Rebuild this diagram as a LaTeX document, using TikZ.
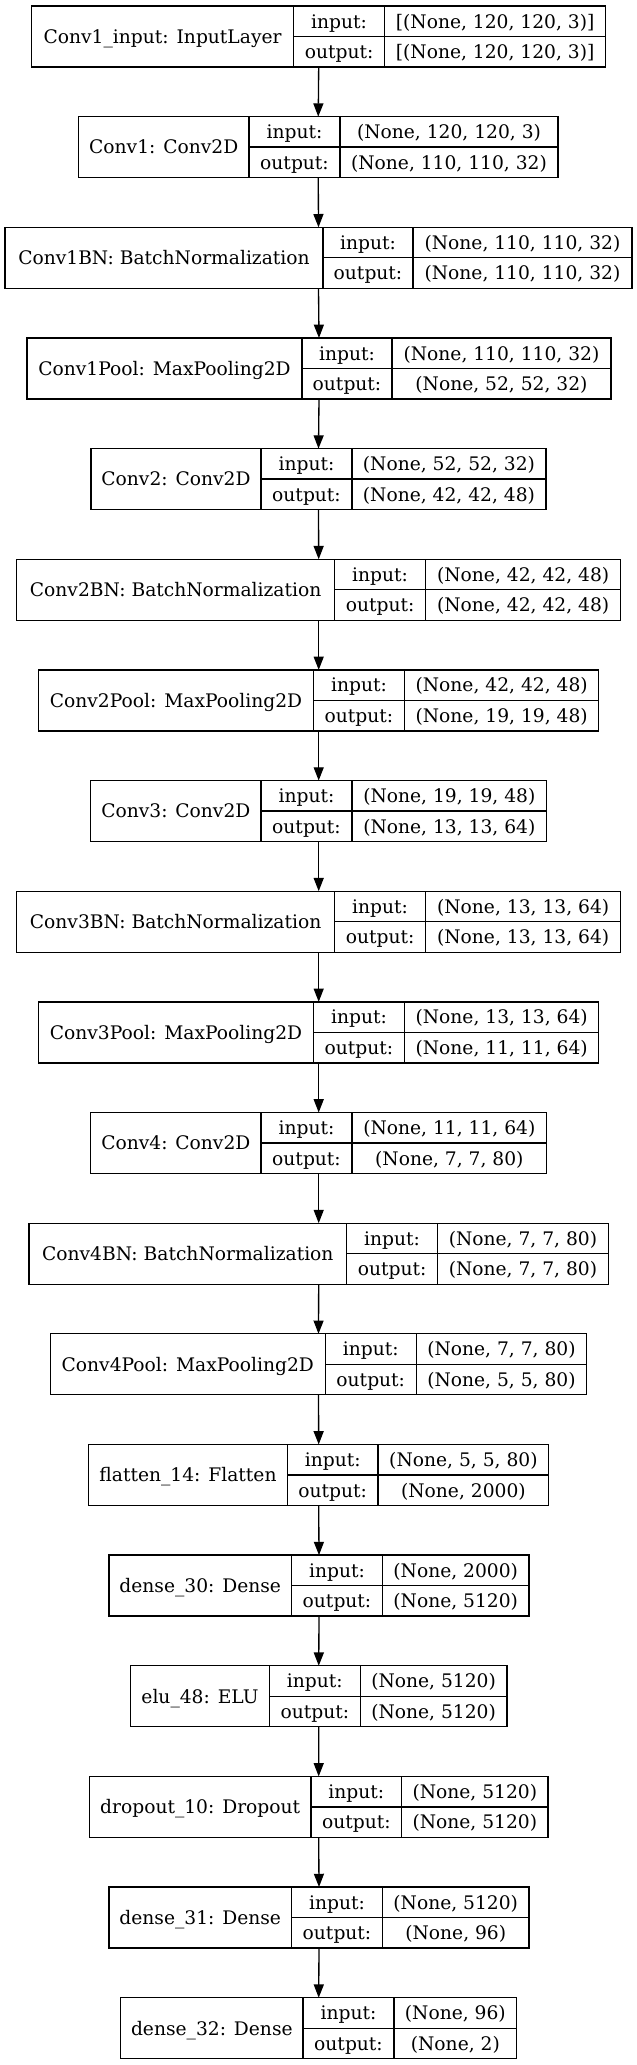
\documentclass[tikz,border=0pt]{standalone}
\usepackage{fontspec}
\setmainfont{DejaVu Serif}
\usetikzlibrary{arrows.meta}
\tikzset{
  lbox/.style={draw=black, line width=1.33pt, inner sep=0pt, outer sep=0pt, minimum height=61pt, fill=white},
  cell/.style={draw=black, line width=1.33pt},
  txt/.style={inner sep=0pt, outer sep=0pt, font=\fontsize{18.67}{22}\selectfont, text height=13.6pt, text depth=0pt, anchor=center},
  arr/.style={draw=black, line width=1.33pt, -{Triangle[length=13.3pt,width=10pt]}},
}
% #1 index, #2 left, #3 divider1, #4 divider2, #5 right, #6 label, #7 input, #8 output
\newcommand\layerbox[8]{%
  \pgfmathsetmacro\lbTop{6+(#1-1)*110.65}%
  \pgfmathsetmacro\lbMid{\lbTop+30.5}%
  \pgfmathsetmacro\lbUp{\lbTop+15.25}%
  \pgfmathsetmacro\lbLow{\lbTop+45.75}%
  \pgfmathsetmacro\lbW{#5-#2}%
  \node[lbox, minimum width=\lbW pt] (b#1) at ({(#2+#5)/2},\lbMid) {};
  \draw[cell] (#3,\lbTop) -- (#3,\lbTop+61);
  \draw[cell] (#4,\lbTop) -- (#4,\lbTop+61);
  \draw[cell] (#3,\lbMid) -- (#5,\lbMid);
  \node[txt] (l#1) at ({(#2+#3)/2},\lbMid) {#6};
  \node[txt] (i#1) at ({(#3+#4)/2},\lbUp) {input:};
  \node[txt] (o#1) at ({(#3+#4)/2},\lbLow) {output:};
  \node[txt] (vi#1) at ({(#4+#5)/2},\lbUp) {#7};
  \node[txt] (vo#1) at ({(#4+#5)/2},\lbLow) {#8};
}
\begin{document}
\begin{tikzpicture}[x=1pt,y=-1pt]
\fill[white] (0,0) rectangle (637,2065);
\useasboundingbox (0,0) rectangle (637,2065);
\layerbox{1}{31.7}{293.5}{384.6}{605.7}{Conv1\_input: InputLayer}{[(None, 120, 120, 3)]}{[(None, 120, 120, 3)]}
\layerbox{2}{78.5}{249}{340}{558}{Conv1: Conv2D}{(None, 120, 120, 3)}{(None, 110, 110, 32)}
\layerbox{3}{5}{323}{413}{632}{Conv1BN: BatchNormalization}{(None, 110, 110, 32)}{(None, 110, 110, 32)}
\layerbox{4}{27}{302}{392}{611}{Conv1Pool: MaxPooling2D}{(None, 110, 110, 32)}{(None, 52, 52, 32)}
\layerbox{5}{91}{261}{352}{546}{Conv2: Conv2D}{(None, 52, 52, 32)}{(None, 42, 42, 48)}
\layerbox{6}{16.7}{334.6}{425.6}{620.7}{Conv2BN: BatchNormalization}{(None, 42, 42, 48)}{(None, 42, 42, 48)}
\layerbox{7}{38.6}{313.4}{404.5}{598.8}{Conv2Pool: MaxPooling2D}{(None, 42, 42, 48)}{(None, 19, 19, 48)}
\layerbox{8}{90.7}{261}{352}{546.7}{Conv3: Conv2D}{(None, 19, 19, 48)}{(None, 13, 13, 64)}
\layerbox{9}{16.7}{334.6}{425.6}{620.7}{Conv3BN: BatchNormalization}{(None, 13, 13, 64)}{(None, 13, 13, 64)}
\layerbox{10}{38.6}{313.4}{404.5}{598.8}{Conv3Pool: MaxPooling2D}{(None, 13, 13, 64)}{(None, 11, 11, 64)}
\layerbox{11}{90.7}{261}{352}{546.7}{Conv4: Conv2D}{(None, 11, 11, 64)}{(None, 7, 7, 80)}
\layerbox{12}{28.9}{346.7}{437.4}{608.5}{Conv4BN: BatchNormalization}{(None, 7, 7, 80)}{(None, 7, 7, 80)}
\layerbox{13}{50.4}{325.2}{416.3}{586.6}{Conv4Pool: MaxPooling2D}{(None, 7, 7, 80)}{(None, 5, 5, 80)}
\layerbox{14}{88.6}{287.4}{378}{548.8}{flatten\_14: Flatten}{(None, 5, 5, 80)}{(None, 2000)}
\layerbox{15}{109}{291.5}{382.5}{529}{dense\_30: Dense}{(None, 2000)}{(None, 5120)}
\layerbox{16}{130.5}{269.5}{360.2}{507}{elu\_48: ELU}{(None, 5120)}{(None, 5120)}
\layerbox{17}{89.4}{311}{401.6}{548}{dropout\_10: Dropout}{(None, 5120)}{(None, 5120)}
\layerbox{18}{109}{291.5}{382.5}{529}{dense\_31: Dense}{(None, 5120)}{(None, 96)}
\layerbox{19}{120.7}{303}{394}{516.7}{dense\_32: Dense}{(None, 96)}{(None, 2)}
\foreach \i [evaluate=\i as \j using int(\i+1)] in {1,...,18}
  \draw[arr] (b\i.south) -- (b\j.north);
\end{tikzpicture}
\end{document}
